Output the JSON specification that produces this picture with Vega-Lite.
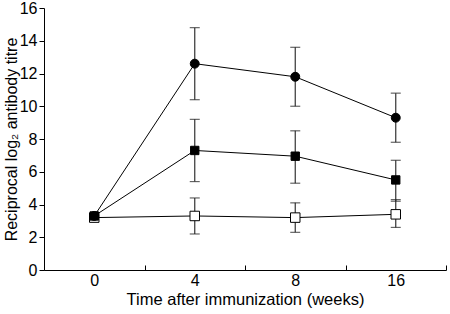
{
  "$schema": "https://vega.github.io/schema/vega-lite/v6.json",
  "autosize": {"type": "none"},
  "padding": {"left": 44, "top": 8, "right": 4, "bottom": 44},
  "width": 402,
  "height": 262,
  "background": "white",
  "config": {
    "view": {"stroke": null},
    "font": "Liberation Sans"
  },
  "data": {
    "values": [
      {"series": "open", "week": 0, "mean": 3.2, "lo": null, "hi": null},
      {"series": "open", "week": 4, "mean": 3.3, "lo": 2.2, "hi": 4.4},
      {"series": "open", "week": 8, "mean": 3.2, "lo": 2.3, "hi": 4.1},
      {"series": "open", "week": 16, "mean": 3.4, "lo": 2.6, "hi": 4.3},
      {"series": "circle", "week": 0, "mean": 3.3, "lo": null, "hi": null},
      {"series": "circle", "week": 4, "mean": 12.6, "lo": 10.4, "hi": 14.8},
      {"series": "circle", "week": 8, "mean": 11.8, "lo": 10.0, "hi": 13.6},
      {"series": "circle", "week": 16, "mean": 9.3, "lo": 7.8, "hi": 10.8},
      {"series": "filled", "week": 0, "mean": 3.3, "lo": null, "hi": null},
      {"series": "filled", "week": 4, "mean": 7.3, "lo": 5.4, "hi": 9.2},
      {"series": "filled", "week": 8, "mean": 6.95, "lo": 5.3, "hi": 8.5},
      {"series": "filled", "week": 16, "mean": 5.5, "lo": 4.2, "hi": 6.7}
    ]
  },
  "encoding": {
    "x": {
      "field": "week",
      "type": "ordinal",
      "sort": [0, 4, 8, 16],
      "scale": {"type": "band", "paddingInner": 0, "paddingOuter": 0},
      "axis": {
        "title": "Time after immunization (weeks)",
        "labelAngle": 0,
        "tickBand": "extent",
        "tickSize": -5,
        "labelPadding": 7,
        "titlePadding": 3,
        "grid": false,
        "domainColor": "black",
        "tickColor": "black",
        "labelColor": "black",
        "titleColor": "black",
        "labelFont": "Liberation Sans",
        "titleFont": "Liberation Sans",
        "labelFontSize": 16,
        "titleFontSize": 16.5,
        "titleFontWeight": "normal"
      }
    },
    "y": {
      "field": "mean",
      "type": "quantitative",
      "scale": {"domain": [0, 16]},
      "axis": {
        "title": "Reciprocal log₂ antibody titre",
        "values": [0, 2, 4, 6, 8, 10, 12, 14, 16],
        "tickSize": 5,
        "labelPadding": 2,
        "titlePadding": 0,
        "grid": false,
        "labelOverlap": false,
        "labelFlush": false,
        "domainColor": "black",
        "tickColor": "black",
        "labelColor": "black",
        "titleColor": "black",
        "labelFont": "Liberation Sans",
        "titleFont": "Liberation Sans",
        "labelFontSize": 16,
        "titleFontSize": 16,
        "titleFontWeight": "normal"
      }
    }
  },
  "layer": [
    {
      "transform": [{"filter": "datum.lo != null"}],
      "mark": {"type": "rule", "color": "#333", "strokeWidth": 1.2},
      "encoding": {
        "y": {"field": "lo", "type": "quantitative"},
        "y2": {"field": "hi"}
      }
    },
    {
      "transform": [{"filter": "datum.lo != null"}],
      "mark": {"type": "tick", "color": "#222", "size": 10, "thickness": 1.2, "orient": "horizontal"},
      "encoding": {"y": {"field": "lo", "type": "quantitative"}}
    },
    {
      "transform": [{"filter": "datum.hi != null"}],
      "mark": {"type": "tick", "color": "#222", "size": 10, "thickness": 1.2, "orient": "horizontal"},
      "encoding": {"y": {"field": "hi", "type": "quantitative"}}
    },
    {
      "mark": {"type": "line", "color": "black", "strokeWidth": 1},
      "encoding": {
        "detail": {"field": "series"}
      }
    },
    {
      "mark": {"type": "point", "filled": false, "stroke": "black", "strokeWidth": 1, "opacity": 1},
      "encoding": {
        "shape": {
          "field": "series",
          "type": "nominal",
          "scale": {"domain": ["open", "circle", "filled"], "range": ["square", "circle", "square"]},
          "legend": null
        },
        "fill": {
          "field": "series",
          "type": "nominal",
          "scale": {"domain": ["open", "circle", "filled"], "range": ["white", "black", "black"]},
          "legend": null
        },
        "size": {
          "field": "series",
          "type": "nominal",
          "scale": {"domain": ["open", "circle", "filled"], "range": [90, 70, 75]},
          "legend": null
        }
      }
    }
  ]
}
